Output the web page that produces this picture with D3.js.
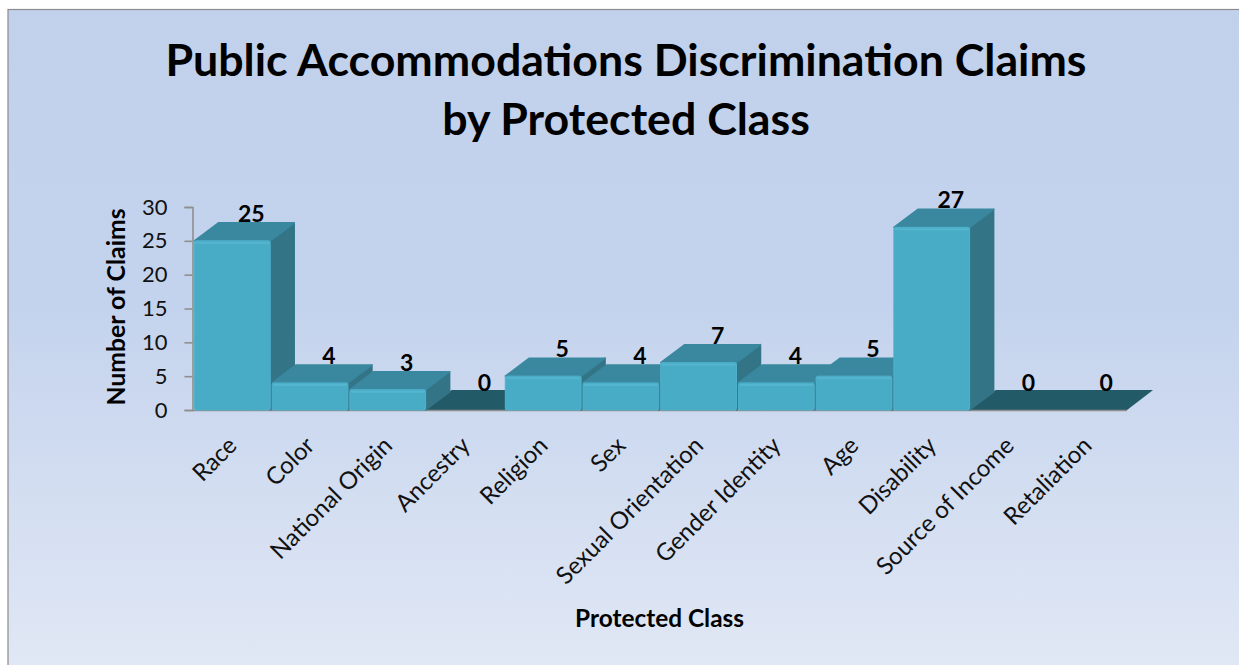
<!DOCTYPE html>
<html><head><meta charset="utf-8">
<style>html,body{margin:0;padding:0;background:#fff}svg{display:block}text{font-family:Lato,"Open Sans",sans-serif}</style>
<script src="https://cdnjs.cloudflare.com/ajax/libs/d3/7.8.5/d3.min.js"></script>
</head><body><svg id="c" width="1239" height="665"></svg>
<script>
const categories=["Race","Color","National Origin","Ancestry","Religion","Sex","Sexual Orientation","Gender Identity","Age","Disability","Source of Income","Retaliation"];
const claims=[25,4,3,0,5,4,7,4,5,27,0,0];
const yTicks=[0,5,10,15,20,25,30];
const titleLines=["Public Accommodations Discrimination Claims","by Protected Class"];
const xTitle="Protected Class", yTitle="Number of Claims";

const svg=d3.select("#c");
const defs=svg.append("defs");
const bg=defs.append("linearGradient").attr("id","bg").attr("x1",0).attr("y1",0).attr("x2",0).attr("y2",1);
bg.append("stop").attr("offset","0%").attr("stop-color","#c1d1ec");
bg.append("stop").attr("offset","45%").attr("stop-color","#c4d3ed");
bg.append("stop").attr("offset","100%").attr("stop-color","#e1e8f5");
svg.append("rect").attr("x",8).attr("y",9.5).attr("width",1240).attr("height",665).attr("fill","url(#bg)").attr("stroke","#8c8c8c").attr("stroke-width",1.2);

const x=d3.scaleBand().domain(categories).range([193.5,1126]).paddingInner(0.025).paddingOuter(0.012);
const y=d3.scaleLinear().domain([0,30]).range([410,207]);
const dx=24,dy=18;

svg.selectAll(".t").data(titleLines).join("text").attr("x",626).attr("y",(d,i)=>[75.5,135][i])
 .attr("text-anchor","middle").attr("font-size",44.7).attr("font-weight",700).attr("fill","#000").text(d=>d);

const floor=svg.append("g");
categories.forEach((c,i)=>{ if(claims[i]===0){
 const x0=x(c)-2,x1=x(c)+x.bandwidth()+2;
 floor.append("path").attr("d",`M${x0},${y(0)}L${x1},${y(0)}L${x1+dx+2},${y(0)-dy-2}L${x0+dx+2},${y(0)-dy-2}Z`).attr("fill","#235a68");
}});

const ax=svg.append("g").attr("transform","translate(192.5,0)").call(d3.axisLeft(y).tickValues(yTicks).tickSize(8).tickPadding(17));
ax.selectAll("path,line").attr("stroke","#8f8f8f").attr("stroke-width",1.6);
ax.selectAll("text").attr("font-size",22).attr("fill","#111").style("font-family","Lato");
svg.append("line").attr("x1",192).attr("x2",1127).attr("y1",y(0)+.5).attr("y2",y(0)+.5).attr("stroke","#8f8f8f").attr("stroke-width",1.6);

const bars=svg.append("g");
categories.forEach((c,i)=>{
 const v=claims[i]; if(v===0) return;
 const x0=x(c),w=x.bandwidth(),yt=y(v),yb=y(0);
 const g=bars.append("g");
 g.append("path").attr("d",`M${x0+w},${yb}L${x0+w},${yt}L${x0+w+dx},${yt-dy}L${x0+w+dx},${yb-dy}Z`).attr("fill","#337487").attr("stroke","#337487").attr("stroke-linejoin","round").attr("stroke-width",1.5);
 g.append("path").attr("d",`M${x0},${yt}L${x0+w},${yt}L${x0+w+dx},${yt-dy}L${x0+dx},${yt-dy}Z`).attr("fill","#3a889f").attr("stroke","#3a889f").attr("stroke-linejoin","round").attr("stroke-width",1.5);
 g.append("rect").attr("x",x0).attr("y",yt).attr("width",w).attr("height",yb-yt).attr("rx",1.5).attr("fill","#49acc7").attr("stroke","#4fb1cb").attr("stroke-width",1);
 g.append("rect").attr("x",x0+1).attr("y",yt+1).attr("width",w-2).attr("height",2).attr("fill","#55b5cf");
});

svg.selectAll(".v").data(categories).join("text")
 .attr("x",d=>x(d)+x.bandwidth()/2+19)
 .attr("y",(d,i)=>y(claims[i])-dy-1)
 .attr("text-anchor","middle").attr("font-size",23).attr("font-weight",700).attr("fill","#000")
 .text((d,i)=>claims[i]);

svg.selectAll(".c").data(categories).join("text")
 .attr("transform",d=>`translate(${x(d)+x.bandwidth()/2+6},447) rotate(-45)`)
 .attr("text-anchor","end").attr("font-size",24).attr("fill","#111").text(d=>d);

svg.append("text").attr("x",659.5).attr("y",626.5).attr("text-anchor","middle").attr("font-size",24.4).attr("font-weight",700).text(xTitle);
svg.append("text").attr("transform","translate(125,307) rotate(-90)").attr("text-anchor","middle").attr("font-size",24.8).attr("font-weight",700).text(yTitle);
</script></body></html>
